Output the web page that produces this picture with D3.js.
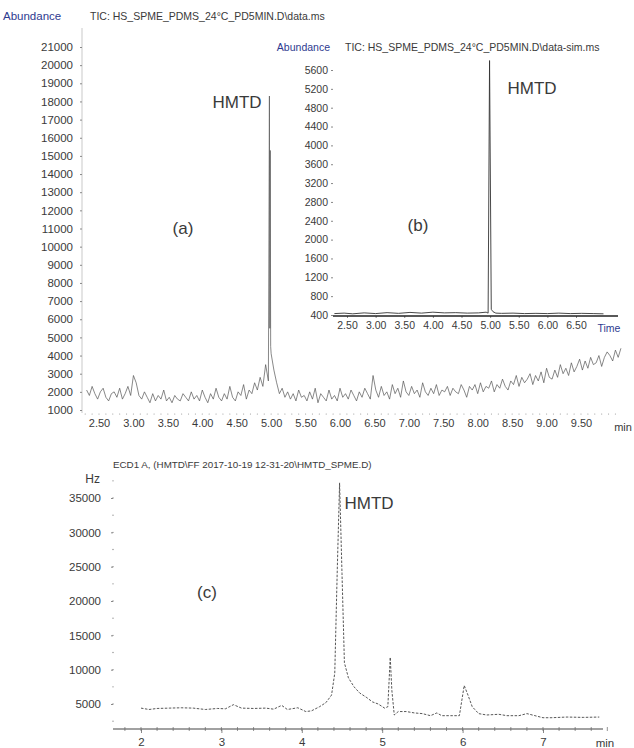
<!DOCTYPE html>
<html lang="en">
<head>
<meta charset="UTF-8">
<title>HMTD chromatograms</title>
<script src="https://d3js.org/d3.v7.min.js"></script>
<style>
  body { margin: 0; background: #fff; }
  svg text { font-family: "Liberation Sans", Arial, sans-serif; fill: #3a3a3a; }
</style>
</head>
<body>
<svg id="chart" width="634" height="748"></svg>
<script>
// (a) full-scan TIC: detector sampled every 0.04 min from 2.32 min
const ticStart = 2.32, ticStep = 0.04;
const ticNoise = [
  2100, 1800, 2300, 1900, 1600, 2000, 2200, 1700, 1500, 1900,
  2000, 1700, 2200, 1600, 1900, 2300, 1800, 2900, 2500, 1800,
  1600, 2000, 1700, 1400, 1900, 1500, 1800, 1600, 2100, 1500,
  1700, 1400, 1800, 1600, 1500, 1900, 1700, 1500, 2000, 1600,
  1800, 1500, 2100, 1700, 1400, 1900, 1600, 2200, 1700, 1500,
  1900, 1600, 2300, 1700, 1500, 2000, 1800, 2400, 1600, 2100,
  1900, 2500, 2100, 2800, 2300, 3500, 2600, 4100, 3200, 2500,
  1900, 2200, 1700, 2000, 1600, 1900, 1500, 2100, 1700, 1800,
  1500, 2000, 1600, 2200, 1400, 1900, 1700, 1500, 2100, 1600,
  1800, 1500, 2200, 1700, 1900, 1600, 2100, 1800, 1500, 2000,
  1700, 2200, 1900, 1600, 2900, 2100, 1700, 2300, 1800, 2000,
  1600, 2400, 1900, 2200, 1700, 2600, 2000, 1800, 2300, 1900,
  2100, 1700, 2500, 2000, 1800, 2200, 1900, 2400, 1800, 2100,
  2000, 2300, 1800, 2200, 2000, 1900, 2400, 2100, 1700, 2300,
  2100, 2400, 1900, 2500, 2000, 2300, 2200, 2600, 2000, 2400,
  2200, 2700, 2300, 2100, 2600, 2400, 2900, 2300, 2800, 2500,
  2700, 3000, 2400, 2900, 2600, 3100, 2500, 3300, 2800, 2700,
  3200, 2800, 3500, 3000, 3300, 2900, 3600, 3100, 3400, 3800,
  3200, 3700, 3300, 3900, 3500, 3600, 4000, 3400, 3900, 4200,
  4000, 3700, 4300, 3900, 4400
];
const ticPeakTimes = [4.975, 4.981, 4.987, 4.993];
const ticPeakValues = [18300, 5500, 15300, 4500];
const ticYTicks = [1000, 2000, 3000, 4000, 5000, 6000, 7000, 8000, 9000, 10000, 11000,
  12000, 13000, 14000, 15000, 16000, 17000, 18000, 19000, 20000, 21000];
const ticXTicks = [2.5, 3, 3.5, 4, 4.5, 5, 5.5, 6, 6.5, 7, 7.5, 8, 8.5, 9, 9.5];

// (b) SIM trace
const simTimes = [2.28, 2.45, 2.6, 2.8, 3.0, 3.2, 3.4, 3.6, 3.8, 4.0, 4.2, 4.4, 4.6, 4.8,
  4.93, 4.965, 4.99, 5.02, 5.05, 5.1, 5.2, 5.4, 5.6, 5.8, 6.0, 6.2, 6.4, 6.6, 6.8, 6.98];
const simValues = [430, 440, 425, 445, 430, 450, 435, 455, 440, 460, 445, 450, 440, 445,
  460, 440, 5800, 520, 470, 440, 435, 440, 430, 435, 430, 440, 430, 435, 430, 425];
const simYTicks = [400, 800, 1200, 1600, 2000, 2400, 2800, 3200, 3600, 4000, 4400, 4800, 5200, 5600];
const simXTicks = [2.5, 3, 3.5, 4, 4.5, 5, 5.5, 6, 6.5];

// (c) ECD trace
const ecdTimes = [2.0, 2.1, 2.2, 2.35, 2.5, 2.65, 2.8, 2.95, 3.05, 3.15, 3.25, 3.4, 3.55, 3.65,
  3.75, 3.82, 3.95, 4.05, 4.12, 4.22, 4.3, 4.37, 4.41, 4.44, 4.47, 4.5, 4.53, 4.58, 4.65,
  4.72, 4.8, 4.88, 4.95, 5.03, 5.07, 5.1, 5.12, 5.15, 5.2, 5.3, 5.4, 5.5, 5.6, 5.68, 5.74,
  5.85, 5.96, 6.02, 6.07, 6.12, 6.2, 6.3, 6.45, 6.55, 6.7, 6.8, 6.9, 7.0, 7.1, 7.3, 7.5, 7.7];
const ecdValues = [4400, 4200, 4350, 4400, 4450, 4400, 4200, 4350, 4300, 4900, 4400, 4350, 4400, 4250,
  4800, 4200, 4450, 3900, 4000, 4600, 5200, 6300, 9500, 24000, 37200, 24000, 11000, 8800, 7500,
  6600, 6000, 5300, 5000, 4400, 4600, 11800, 7000, 3400, 3900, 3900, 3700, 3600, 3300, 3700, 3300,
  3300, 3300, 7700, 6200, 4600, 3600, 3400, 3500, 3300, 3300, 3600, 3300, 3000, 3000, 3100, 3050, 3100];
const ecdYTicks = [5000, 10000, 15000, 20000, 25000, 30000, 35000];
const ecdXTicks = [2, 3, 4, 5, 6, 7];

const blue = "#2e3a8f";
const svg = d3.select("#chart");

function styleAxis(g, size) {
  g.attr("font-family", null).attr("font-size", size).attr("color", "#888");
  g.select(".domain").remove();
  g.selectAll("text").attr("fill", "#3a3a3a");
}

function label(x, y, txt, size, anchor, color) {
  svg.append("text").attr("x", x).attr("y", y).attr("dy", "0.35em")
    .attr("font-size", size).attr("text-anchor", anchor || "start")
    .style("fill", color || "#3a3a3a").text(txt);
}

// ---------- panel (a)
const xA = d3.scaleLinear().domain([2.5, 9.5]).range([99, 581]);
const yA = d3.scaleLinear().domain([1000, 21000]).range([410, 47]);

svg.append("line").attr("x1", 82).attr("x2", 82).attr("y1", 28).attr("y2", 413)
  .attr("stroke", "#bbb").attr("stroke-width", 0.8);

svg.append("g").attr("transform", "translate(82,0)")
  .call(d3.axisLeft(yA).tickValues(ticYTicks).tickSize(2).tickPadding(7).tickFormat(d3.format("d")))
  .call(g => styleAxis(g, 11.5));

svg.append("g").attr("transform", "translate(0,414)")
  .call(d3.axisBottom(xA).tickValues(ticXTicks).tickSize(0).tickPadding(5).tickFormat(d3.format(".2f")))
  .call(g => styleAxis(g, 11));

svg.append("g").selectAll("circle")
  .data(d3.range(2.3, 10.06, 0.1))
  .join("circle")
  .attr("cx", d => xA(d)).attr("cy", 414).attr("r", 0.6).attr("fill", "#999");

const ticSeries = ticNoise.map((v, i) => [ticStart + i * ticStep, v]);
ticPeakTimes.forEach((t, i) => ticSeries.push([t, ticPeakValues[i]]));
ticSeries.sort((a, b) => a[0] - b[0]);

svg.append("path").datum(ticSeries)
  .attr("fill", "none").attr("stroke", "#555").attr("stroke-width", 0.7)
  .attr("d", d3.line().x(d => xA(d[0])).y(d => yA(d[1])));

label(3, 16, "Abundance", 11.5, "start", blue);
label(90, 16, "TIC: HS_SPME_PDMS_24\u00b0C_PD5MIN.D\\data.ms", 10.5);
label(623, 427, "min", 11, "middle");
label(237, 102, "HMTD", 17, "middle");
label(183, 228, "(a)", 17, "middle");

// ---------- panel (b) inset
const xB = d3.scaleLinear().domain([2.5, 6.5]).range([347, 576]);
const yB = d3.scaleLinear().domain([400, 5600]).range([315, 70]);

svg.append("g").attr("transform", "translate(333,0)")
  .call(d3.axisLeft(yB).tickValues(simYTicks).tickSize(2).tickPadding(3).tickFormat(d3.format("d")))
  .call(g => styleAxis(g, 10.5));

svg.append("g").attr("transform", "translate(0,316)")
  .call(d3.axisBottom(xB).tickValues(simXTicks).tickSize(2).tickPadding(4).tickFormat(d3.format(".2f")))
  .call(g => styleAxis(g, 10.5));

svg.append("line").attr("x1", 333).attr("x2", 618).attr("y1", 316).attr("y2", 316)
  .attr("stroke", "#222").attr("stroke-width", 1.3);

svg.append("path").datum(simTimes.map((t, i) => [t, simValues[i]]))
  .attr("fill", "none").attr("stroke", "#333").attr("stroke-width", 0.9)
  .attr("d", d3.line().x(d => xB(d[0])).y(d => yB(d[1])));

label(330, 47, "Abundance", 10.5, "end", blue);
label(345, 47, "TIC: HS_SPME_PDMS_24\u00b0C_PD5MIN.D\\data-sim.ms", 10.5);
label(609, 328, "Time", 10.5, "middle", blue);
label(532, 88, "HMTD", 17, "middle");
label(418, 225, "(b)", 17, "middle");

// ---------- panel (c)
const xC = d3.scaleLinear().domain([2, 7]).range([141, 543]);
const yC = d3.scaleLinear().domain([5000, 35000]).range([704, 498]);

svg.append("g").attr("transform", "translate(113,0)")
  .call(d3.axisLeft(yC).tickValues(ecdYTicks).tickSize(2).tickPadding(10).tickFormat(d3.format("d")))
  .call(g => styleAxis(g, 11.5));

svg.append("g").selectAll("circle")
  .data(d3.range(2500, 37600, 2500))
  .join("circle")
  .attr("cx", 113).attr("cy", d => yC(d)).attr("r", 0.7).attr("fill", "#888");

svg.append("line").attr("x1", 113).attr("x2", 603).attr("y1", 729).attr("y2", 729)
  .attr("stroke", "#444").attr("stroke-width", 1.2);

svg.append("g").attr("transform", "translate(0,729)")
  .call(d3.axisBottom(xC).tickValues(ecdXTicks).tickSize(4).tickPadding(5).tickFormat(d3.format("d")))
  .call(g => styleAxis(g, 11.5));

svg.append("g").selectAll("line")
  .data(d3.range(1.8, 7.81, 0.2))
  .join("line")
  .attr("x1", d => xC(d)).attr("x2", d => xC(d)).attr("y1", 727).attr("y2", 731)
  .attr("stroke", "#666").attr("stroke-width", 0.7);

svg.append("path").datum(ecdTimes.map((t, i) => [t, ecdValues[i]]))
  .attr("fill", "none").attr("stroke", "#444").attr("stroke-width", 0.9)
  .attr("stroke-dasharray", "2.5,1.5")
  .attr("d", d3.line().x(d => xC(d[0])).y(d => yC(d[1])));

label(113, 465, "ECD1 A, (HMTD\\FF 2017-10-19 12-31-20\\HMTD_SPME.D)", 9.8);
label(100, 479, "Hz", 12, "end");
label(605, 743, "min", 11.5, "middle");
label(369, 503, "HMTD", 17, "middle");
label(207, 592, "(c)", 17, "middle");
</script>
</body>
</html>
